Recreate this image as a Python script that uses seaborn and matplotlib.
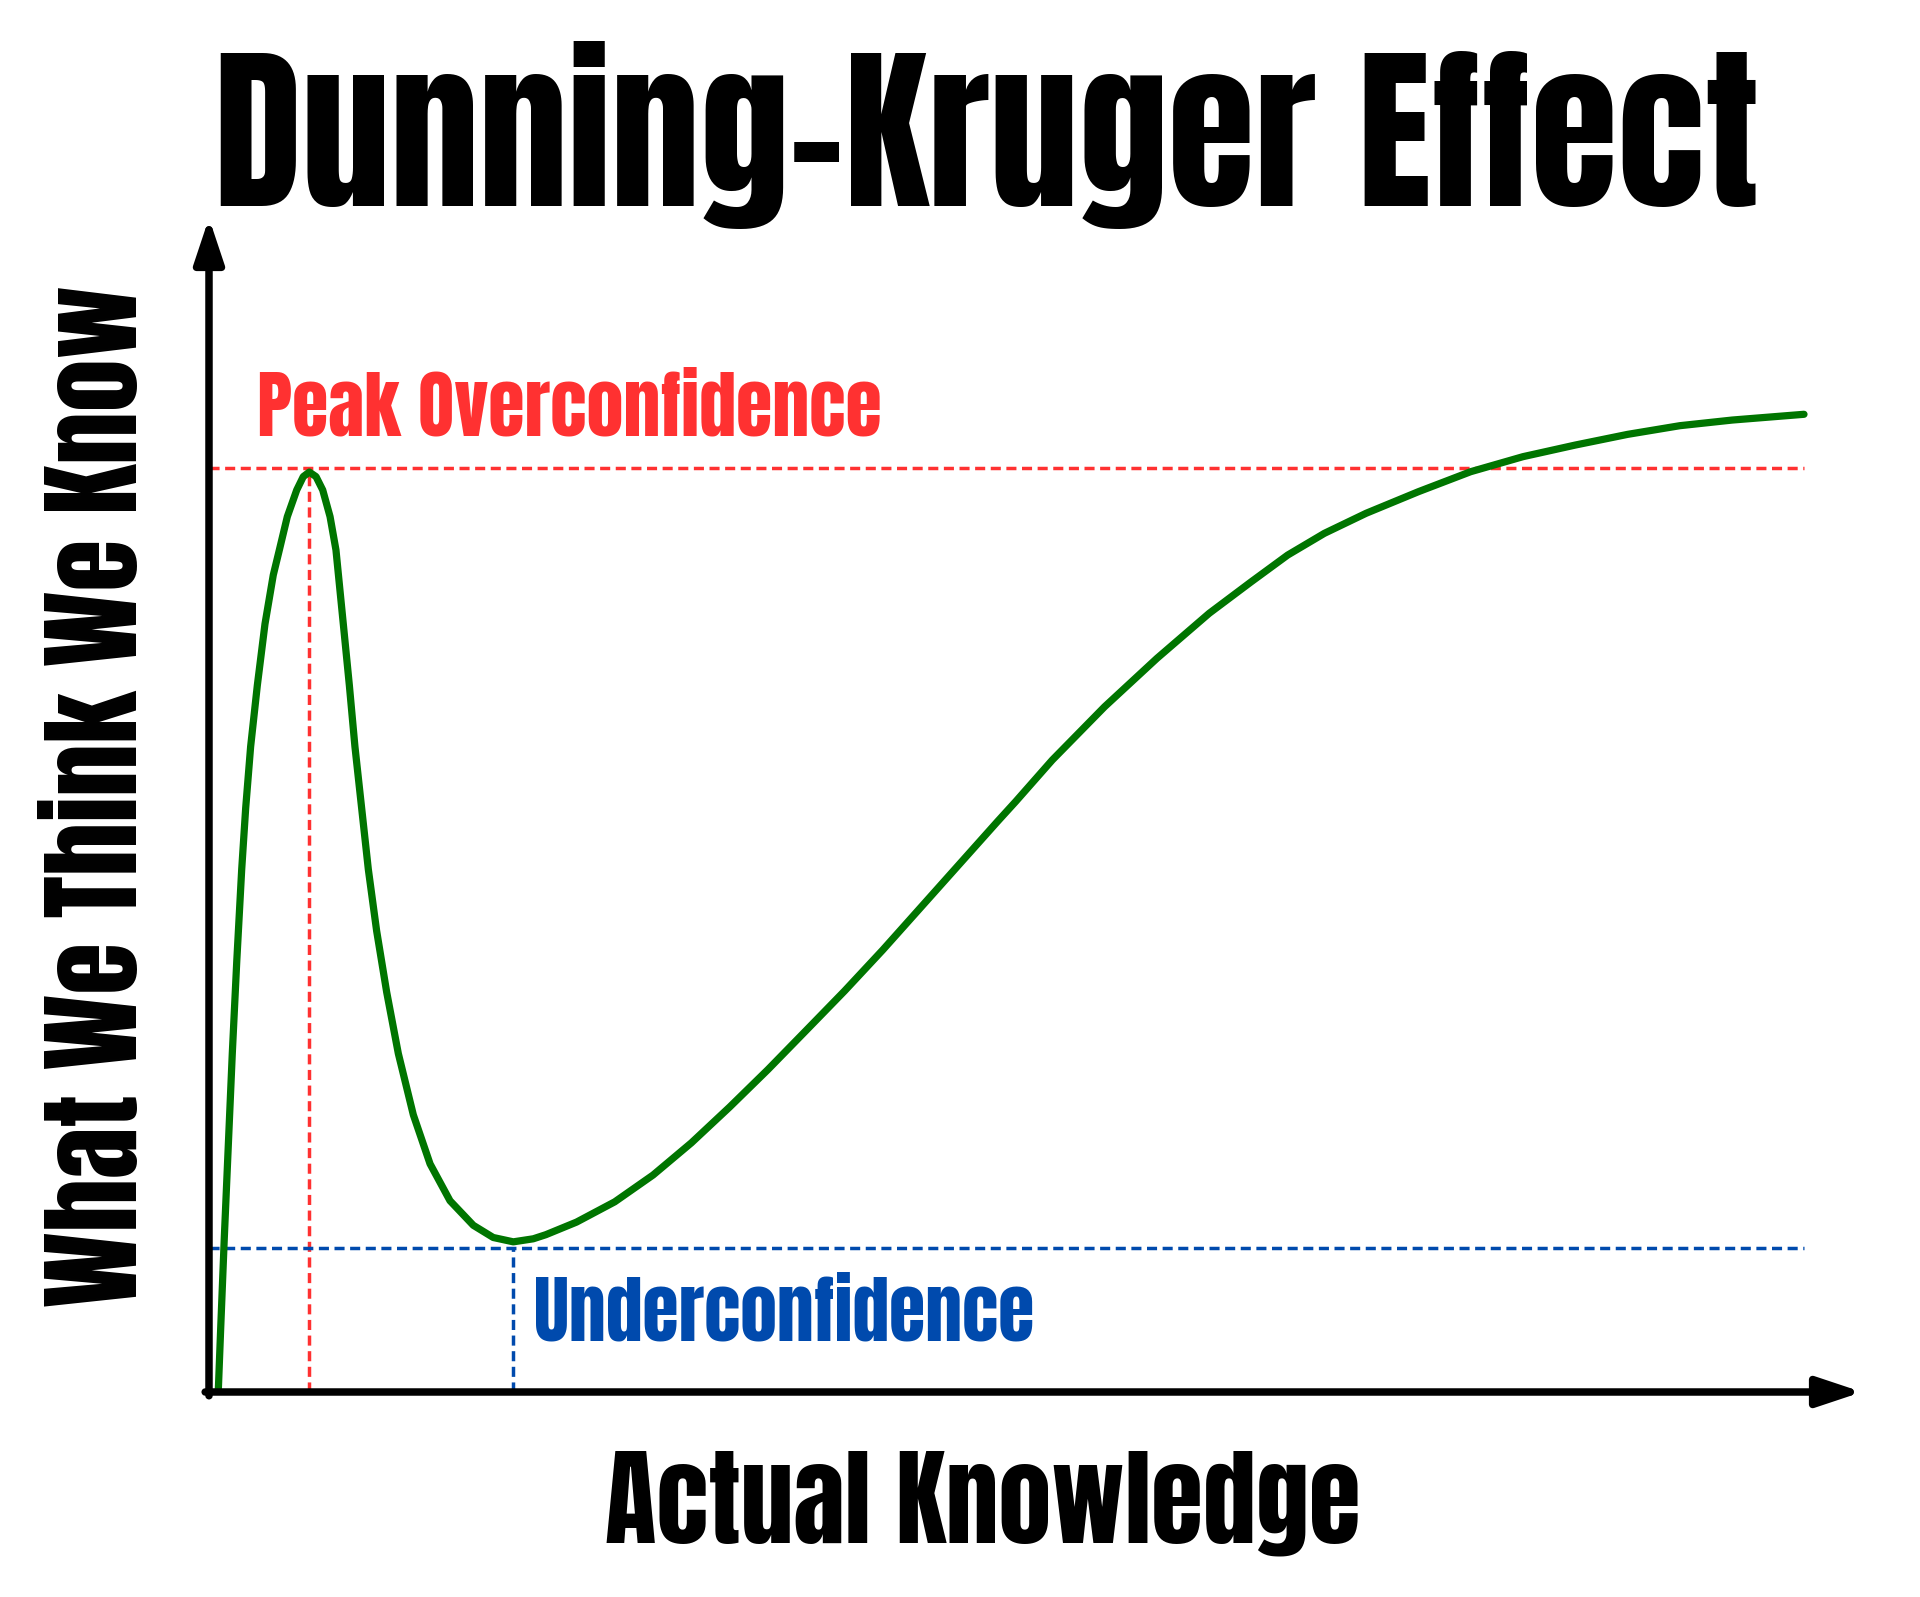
import numpy as np
import seaborn as sns
import matplotlib
matplotlib.use("Agg")
import matplotlib.pyplot as plt

# Curve: actual knowledge (0-100) vs what we think we know (0-100)
knowledge = [0.58, 0.73, 0.96, 1.21, 1.46, 1.74, 2.05, 2.30, 2.61, 3.03, 3.51, 4.03,
             4.41, 4.91, 5.50, 5.91, 6.29, 6.71, 7.13, 7.59, 7.96, 8.42, 8.80, 9.15,
             9.57, 9.99, 10.51, 11.14, 11.87, 12.81, 13.86, 15.11, 16.57, 17.82, 19.08,
             20.33, 21.12, 23.04, 25.44, 27.84, 30.24, 32.64, 35.04, 37.44, 39.84,
             42.24, 44.64, 47.04, 49.44, 50.58, 52.87, 56.15, 59.43, 62.71, 65.33,
             67.63, 69.93, 72.55, 75.83, 79.10, 82.38, 85.66, 88.94, 92.22, 95.50, 100.0]
perceived = [0.0, 5.32, 13.16, 21.00, 28.83, 36.67, 44.51, 49.74, 54.97, 60.19, 65.42, 69.59,
             71.72, 74.56, 76.83, 77.97, 78.36, 77.97, 76.83, 74.56, 71.72, 65.42, 60.19, 54.97,
             49.74, 44.51, 39.28, 34.06, 28.83, 23.61, 19.43, 16.29, 14.20, 13.16, 12.79,
             13.05, 13.40, 14.47, 16.20, 18.48, 21.22, 24.27, 27.46, 30.80, 34.15,
             37.65, 41.30, 44.95, 48.60, 50.30, 53.83, 58.37, 62.49, 66.33, 69.00,
             71.29, 73.14, 74.85, 76.69, 78.39, 79.67, 80.66, 81.57, 82.31, 82.79, 83.28]

peak_x, peak_y = 6.3, 78.7      # peak overconfidence
dip_x, dip_y = 19.06, 12.27     # underconfidence
x_end = 100.0

title = "Dunning-Kruger Effect"
x_label = "Actual Knowledge"
y_label = "What We Think We Know"
peak_label = "Peak Overconfidence"
dip_label = "Underconfidence"

GREEN = "#007500"
RED = "#FF3131"
BLUE = "#004AAD"

sns.set_style("white")
plt.rcParams["font.family"] = ["Anton", "DejaVu Sans"]
plt.rcParams["text.color"] = "black"

W, H = 1920, 1597
fig = plt.figure(figsize=(W / 100, H / 100), dpi=100)
# axes box: origin at (209, 1392) px, top arrow tip at y=218, right arrow tip at x=1862
ax = fig.add_axes([209 / W, (H - 1392) / H, (1862 - 209) / W, (1392 - 218) / H])
ax.set_xlim(0, (1862 - 209) / 15.95)
ax.set_ylim(0, 100)
ax.axis("off")

# reference lines
dash = (0, (2.9, 1.6))
ax.plot([0, x_end], [peak_y, peak_y], color=RED, lw=2.5, linestyle=dash)
ax.plot([peak_x, peak_x], [0, peak_y], color=RED, lw=2.5, linestyle=dash)
ax.plot([0, x_end], [dip_y, dip_y], color=BLUE, lw=2.5, linestyle=dash)
ax.plot([dip_x, dip_x], [0, dip_y], color=BLUE, lw=2.5, linestyle=dash)

sns.lineplot(x=knowledge, y=perceived, color=GREEN, linewidth=5.2, sort=False, ax=ax)
ax.lines[-1].set_solid_joinstyle("round")

# axes with arrow heads
arrow = dict(arrowstyle="-|>,head_length=1.35,head_width=0.45", mutation_scale=20,
             lw=5.4, color="black", shrinkA=0, shrinkB=0)
ax.annotate("", xy=(0, 100), xytext=(0, -0.32), arrowprops=arrow, annotation_clip=False)
ax.annotate("", xy=(ax.get_xlim()[1], 0), xytext=(-0.24, 0), arrowprops=arrow,
            annotation_clip=False)

renderer = fig.canvas.get_renderer()


def fit(txt, target, vertical=False):
    for _ in range(3):
        bb = txt.get_window_extent(renderer)
        size = bb.height if vertical else bb.width
        txt.set_fontsize(txt.get_fontsize() * target / size)
    return txt


t = fig.text(987 / W, (H - 206) / H, title, color="black", ha="center", va="baseline",
             fontsize=150)
fit(t, 1546)

xl = fig.text(983 / W, (H - 1543) / H, x_label, color="black", ha="center", va="baseline",
              fontsize=90)
fit(xl, 756)

yl = fig.text(137 / W, (H - 796) / H, y_label, color="black", ha="center", va="baseline",
              rotation=90, rotation_mode="anchor", fontsize=90)
fit(yl, 1022, vertical=True)

pk = ax.text(3.0, 81.5, peak_label, color=RED, ha="left", va="baseline", fontsize=60)
fit(pk, 624)

dp = ax.text(20.4, 4.38, dip_label, color=BLUE, ha="left", va="baseline", fontsize=60)
fit(dp, 500)

fig.savefig("out.png", dpi=100, facecolor="white")
